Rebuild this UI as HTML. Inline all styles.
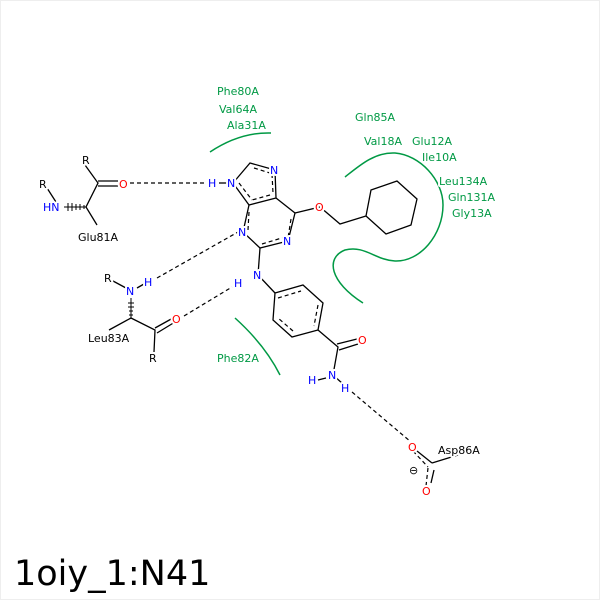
<!DOCTYPE html>
<html><head><style>
html,body{margin:0;padding:0;background:#fff;width:600px;height:600px;overflow:hidden}
text{font-family:"DejaVu Sans","Liberation Sans",sans-serif;font-size:11px;paint-order:stroke;stroke:#fff;stroke-width:4px;stroke-linejoin:round}
.g{fill:#009944}.b{fill:#0000ff}.r{fill:#ff0000}.k{fill:#000}
</style></head><body>
<svg width="600" height="600" viewBox="0 0 600 600" xmlns="http://www.w3.org/2000/svg">
<rect x="0.5" y="0.5" width="599" height="599" fill="#fff" stroke="#eee"/>
<g fill="none" stroke="#009944" stroke-width="1.5">
<path d="M210,152 Q240,132 271,133"/>
<path d="M235,318 Q265,345 280,375"/>
<path d="M345,177 C360,165 375,152 395,153 C420,155 443,180 443,205 C443,235 420,262 395,261 C375,260 365,245 345,250 C325,258 330,282 363,303"/>
</g>
<g stroke="#000" stroke-width="1.3" fill="none">
<path d="M233,183 L250,163 L275,170 M276,198 L249,205 L233,183 M276,198 L275,170"/>
<path d="M249,205 L243,232 L260,248 L288,241 L295,213 L276,198"/>
<path d="M260,248 L258,275 L275,293 M295,213 L320,207 L340,224 L366,216 L371,190 L397,181 L417,199 L411,225 L386,234 L366,216"/>
<path d="M233,183 L219,183"/>
<path d="M275,293 L303,285 L323,303 L318,330 L292,337 L273,320 Z"/>
<path d="M318,330 L338,347 L333,375 M337,344 L357,339 M339,350 L358,344 M333,375 L343,384 M326,378 L318,380"/>
<path d="M85,165 L98,183 L86,207 L97,225 M98,181 L118,181 M98,186 L118,186 M47,188 L56,202"/>
<path d="M113,281 L126,288 M137,288 L144,284 M131,318 L109,330 M131,318 L155,330 L154,352 M155,328 L173,318 M157,333 L175,322"/>
<path d="M432,463 L458,455 M417,451 L432,463 M434,470 L431,483"/>
</g>
<g stroke="#000" stroke-width="1.2" fill="none" stroke-dasharray="4,3">
<path d="M254,168 L270,173 M270,195 L252,200 M239,183 L252,200 M249,212 L248,230 M262,244 L285,237 M291,219 L288,238 M272,174 L273,193"/>
<path d="M278,298 L301,291 M318,305 L314,326 M293,331 L278,318"/>
<path d="M413,451 L428,467 M428,468 L426,486"/>
<path d="M130,183 L207,183"/>
<path d="M157,278 L238,232"/>
<path d="M184,316 L232,287"/>
<path d="M352,392 L411,442"/>
</g>
<g stroke="#000" stroke-width="1">
<path d="M86,207 L64,207 M84,205 L84,209 M80,204 L80,210 M76,204 L76,210 M72,203 L72,211 M68,203 L68,211"/>
<path d="M131,318 L131,298 M129,315 L133,315 M129,311 L133,311 M128,307 L134,307 M128,303 L134,303"/>
</g>
<text x="82" y="164" class="k">R</text>
<text x="39" y="188" class="k">R</text>
<text x="43" y="211" class="b">HN</text>
<text x="119" y="188" class="r">O</text>
<text x="78" y="241" class="k">Glu81A</text>
<text x="104" y="282" class="k">R</text>
<text x="126" y="295" class="b">N</text>
<text x="144" y="286" class="b">H</text>
<text x="88" y="342" class="k">Leu83A</text>
<text x="172" y="323" class="r">O</text>
<text x="149" y="362" class="k">R</text>
<text x="208" y="187" class="b">H</text>
<text x="227" y="187" class="b">N</text>
<text x="270" y="174" class="b">N</text>
<text x="238" y="236" class="b">N</text>
<text x="283" y="245" class="b">N</text>
<text x="253" y="279" class="b">N</text>
<text x="234" y="287" class="b">H</text>
<text x="315" y="211" class="r">O</text>
<text x="358" y="344" class="r">O</text>
<text x="328" y="379" class="b">N</text>
<text x="308" y="384" class="b">H</text>
<text x="341" y="392" class="b">H</text>
<text x="408" y="451" class="r">O</text>
<text x="422" y="495" class="r">O</text>
<text x="409" y="474" class="k">⊖</text>
<text x="438" y="454" class="k">Asp86A</text>
<text x="217" y="95" class="g">Phe80A</text>
<text x="219" y="113" class="g">Val64A</text>
<text x="227" y="129" class="g">Ala31A</text>
<text x="355" y="121" class="g">Gln85A</text>
<text x="364" y="145" class="g">Val18A</text>
<text x="412" y="145" class="g">Glu12A</text>
<text x="422" y="161" class="g">Ile10A</text>
<text x="439" y="185" class="g">Leu134A</text>
<text x="448" y="201" class="g">Gln131A</text>
<text x="452" y="217" class="g">Gly13A</text>
<text x="217" y="362" class="g">Phe82A</text>
<text x="14" y="585" style="font-size:35px;stroke:none" class="k">1oiy_1:N41</text>
</svg>
</body></html>
